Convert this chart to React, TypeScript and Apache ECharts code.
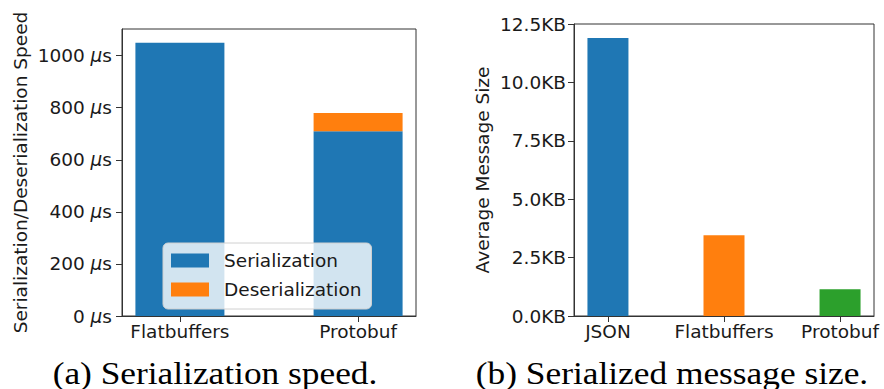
import React, { useEffect, useRef } from "react";
import * as echarts from "echarts";

// ---------- data ----------
const speedCategories = ["Flatbuffers", "Protobuf"];
const serializationUs = [1050, 710];
const deserializationUs = [0, 70];
const speedTicks = [0, 200, 400, 600, 800, 1000];

const sizeCategories = ["JSON", "Flatbuffers", "Protobuf"];
const sizeKB = [11.9, 3.46, 1.14];
const sizeTicks = [0, 2.5, 5, 7.5, 10, 12.5];

const captionA = "(a) Serialization speed.";
const captionB = "(b) Serialized message size.";

const BLUE = "#1f77b4";
const ORANGE = "#ff7f0e";
const GREEN = "#2ca02c";
const sizeColors = [BLUE, ORANGE, GREEN];

const FONT = "DejaVu Sans";
const TXT = "#1a1a1a";
const FS = 18.5;

export default function App() {
  const ref = useRef<HTMLDivElement>(null);
  useEffect(() => {
    if (!ref.current) return;
    const chart = echarts.init(ref.current, null, { renderer: "svg" });
    const tickStyle = { show: true, inside: false, length: 6, lineStyle: { color: "#333", width: 1 } };
    const lineStyle = { show: true, onZero: false, lineStyle: { color: "#333", width: 1 } };
    const option: any = {
      animation: false,
      backgroundColor: "#ffffff",
      textStyle: { fontFamily: FONT, color: TXT },
      grid: [
        { left: 122, top: 29, width: 294, height: 287, show: true, borderColor: "#333", borderWidth: 1, backgroundColor: "transparent" },
        { left: 574, top: 24, width: 300, height: 292, show: true, borderColor: "#333", borderWidth: 1, backgroundColor: "transparent" },
      ],
      legend: {
        orient: "vertical",
        left: 163,
        top: 243,
        padding: [8, 10, 10, 8],
        itemWidth: 38,
        itemHeight: 14,
        itemGap: 10,
        icon: "rect",
        backgroundColor: "rgba(255,255,255,0.8)",
        borderColor: "#d0d0d0",
        borderWidth: 1,
        borderRadius: 5,
        textStyle: { fontFamily: FONT, fontSize: FS, color: TXT, lineHeight: 18, padding: [0, 0, 0, 10] },
        data: ["Serialization", "Deserialization"],
      },
      xAxis: [
        {
          type: "value",
          gridIndex: 0,
          min: -0.325,
          max: 1.325,
          splitLine: { show: false },
          axisLine: lineStyle,
          axisTick: { ...tickStyle, customValues: [0, 1] },
          axisLabel: {
            customValues: [0, 1],
            formatter: (v: number) => speedCategories[Math.round(v)] ?? "",
            fontFamily: FONT,
            fontSize: FS,
            color: TXT,
            margin: 6,
          },
        },
        {
          type: "value",
          gridIndex: 1,
          min: -0.2925,
          max: 2.2925,
          splitLine: { show: false },
          axisLine: lineStyle,
          axisTick: { ...tickStyle, customValues: [0, 1, 2] },
          axisLabel: {
            customValues: [0, 1, 2],
            formatter: (v: number) => sizeCategories[Math.round(v)] ?? "",
            fontFamily: FONT,
            fontSize: FS,
            color: TXT,
            margin: 6,
          },
        },
      ],
      yAxis: [
        {
          type: "value",
          gridIndex: 0,
          min: 0,
          max: 1102.5,
          splitLine: { show: false },
          axisLine: lineStyle,
          axisTick: { ...tickStyle, customValues: speedTicks },
          axisLabel: {
            customValues: speedTicks,
            margin: 10,
            formatter: (v: number) => `{n|${v} }{m|μ}{n|s}`,
            rich: {
              n: { fontFamily: FONT, fontSize: FS, color: TXT },
              m: { fontFamily: FONT, fontSize: FS, color: TXT, fontStyle: "italic" },
            },
          },
          name: "Serialization/Deserialization Speed",
          nameLocation: "middle",
          nameGap: 92,
          nameTextStyle: { fontFamily: FONT, fontSize: FS, color: TXT },
        },
        {
          type: "value",
          gridIndex: 1,
          min: 0,
          max: 12.5,
          splitLine: { show: false },
          axisLine: lineStyle,
          axisTick: { ...tickStyle, customValues: sizeTicks },
          axisLabel: {
            customValues: sizeTicks,
            margin: 8,
            formatter: (v: number) => `${v.toFixed(1)}KB`,
            fontFamily: FONT,
            fontSize: FS,
            color: TXT,
          },
          name: "Average Message Size",
          nameLocation: "middle",
          nameGap: 82,
          nameTextStyle: { fontFamily: FONT, fontSize: FS, color: TXT },
        },
      ],
      series: [
        {
          name: "Serialization",
          type: "bar",
          xAxisIndex: 0,
          yAxisIndex: 0,
          stack: "speed",
          barWidth: 89,
          itemStyle: { color: BLUE },
          encode: { x: 1, y: 0 },
          data: serializationUs.map((v, i) => [v, i]),
        },
        {
          name: "Deserialization",
          type: "bar",
          xAxisIndex: 0,
          yAxisIndex: 0,
          stack: "speed",
          barWidth: 89,
          itemStyle: { color: ORANGE },
          encode: { x: 1, y: 0 },
          data: deserializationUs.map((v, i) => [v, i]),
        },
        {
          name: "Size",
          type: "bar",
          xAxisIndex: 1,
          yAxisIndex: 1,
          barWidth: 41,
          data: sizeKB.map((v, i) => ({ value: [i, v], itemStyle: { color: sizeColors[i] } })),
        },
      ],
      graphic: [
        {
          type: "text",
          x: 215,
          y: 373,
          scaleX: 1.14,
          style: { text: captionA, font: "31px 'Liberation Serif'", fill: "#000", align: "center", verticalAlign: "middle" },
        },
        {
          type: "text",
          x: 672,
          y: 373,
          scaleX: 1.14,
          style: { text: captionB, font: "31px 'Liberation Serif'", fill: "#000", align: "center", verticalAlign: "middle" },
        },
      ],
    };
    chart.setOption(option);
    return () => chart.dispose();
  }, []);
  return <div ref={ref} style={{ position: "fixed", left: 0, top: 0, width: 884, height: 389 }} />;
}
